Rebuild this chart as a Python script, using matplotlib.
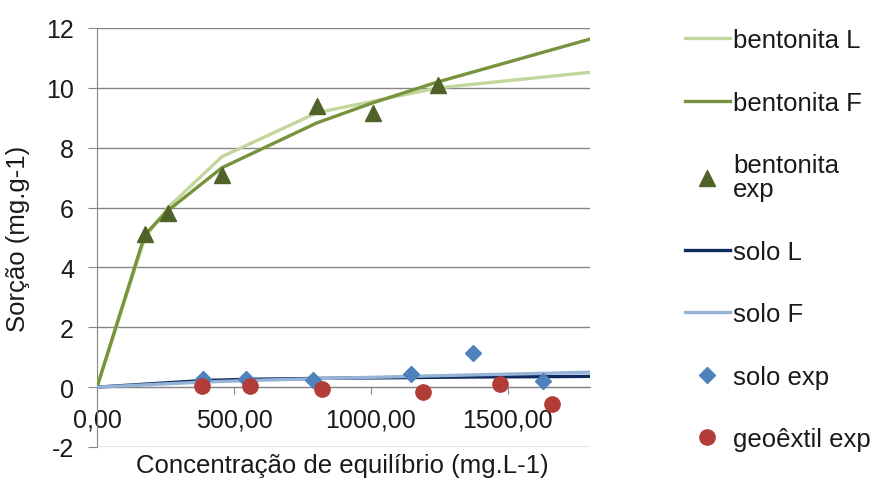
import matplotlib.pyplot as plt
from matplotlib.ticker import FuncFormatter, MultipleLocator

plt.rcParams['font.family'] = ['Liberation Sans', 'DejaVu Sans']
plt.rcParams['axes.unicode_minus'] = False

# Bentonite: experimental points and fitted isotherms
bent_x = [0, 175, 259, 456, 803, 1007, 1245, 1800]
bent_L = [0, 5.0, 6.0, 7.7, 9.17, 9.55, 10.0, 10.52]
bent_F = [0, 5.1, 5.9, 7.33, 8.83, 9.5, 10.2, 11.63]
bent_exp_x = [175, 259, 456, 803, 1007, 1245]
bent_exp_y = [5.13, 5.83, 7.1, 9.4, 9.17, 10.1]

# Soil: experimental points and fitted isotherms
solo_x = [0, 387, 544, 788, 1146, 1372, 1628, 1800]
solo_L = [0, 0.22, 0.26, 0.29, 0.32, 0.34, 0.35, 0.36]
solo_F = [0, 0.17, 0.22, 0.28, 0.36, 0.41, 0.46, 0.50]
solo_exp_x = [387, 544, 788, 1146, 1372, 1628]
solo_exp_y = [0.27, 0.27, 0.23, 0.43, 1.13, 0.2]

# Geotextile experimental points
geo_exp_x = [383, 558, 821, 1190, 1471, 1661]
geo_exp_y = [0.03, 0.03, -0.07, -0.17, 0.1, -0.57]

fig = plt.figure(figsize=(8.76, 4.81), dpi=100)
ax = fig.add_axes([97 / 876, 1 - 448 / 481, 493 / 876, 419 / 481])

grid_c = '#868686'
txt_c = '#1a1a1a'
ax.plot(bent_x, bent_L, color='#c3d69b', lw=2.4, label='bentonita L', zorder=3)
ax.plot(bent_x, bent_F, color='#77933c', lw=2.4, label='bentonita F', zorder=3)
ax.plot(bent_exp_x, bent_exp_y, ls='none', marker='^', ms=11, color='#4f6228',
        label='bentonita\nexp', zorder=5)
ax.plot(solo_x, solo_L, color='#0f2a5c', lw=2.4, label='solo L', zorder=3)
ax.plot(solo_x, solo_F, color='#95b3d7', lw=2.4, label='solo F', zorder=3)
ax.plot(solo_exp_x, solo_exp_y, ls='none', marker='D', ms=8, color='#4f81bd',
        label='solo exp', zorder=4)
ax.plot(geo_exp_x, geo_exp_y, ls='none', marker='o', ms=11, color='#b23c38',
        label='geoêxtil exp', zorder=5)

ax.set_xlim(0, 1800)
ax.set_ylim(-2, 12)
ax.yaxis.set_major_locator(MultipleLocator(2))
ax.xaxis.set_major_locator(MultipleLocator(500))
ax.xaxis.set_major_formatter(FuncFormatter(lambda v, p: f'{v:.2f}'.replace('.', ',')))
ax.grid(axis='y', color=grid_c, lw=1, zorder=0)

ax.spines['top'].set_visible(False)
ax.spines['right'].set_visible(False)
ax.spines['bottom'].set_position(('data', 0))
ax.spines['bottom'].set_color(grid_c)
ax.spines['left'].set_color(grid_c)
ax.tick_params(axis='both', colors=grid_c, labelcolor=txt_c, labelsize=18,
               direction='out')
ax.tick_params(axis='y', length=6.5, pad=10)
ax.tick_params(axis='x', length=5, pad=10)

ax.set_ylabel('Sorção (mg.g-1)', fontsize=18.5, color=txt_c, va='center')
ax.yaxis.set_label_coords(-0.16, 0.5)
ax.set_xlabel('Concentração de equilíbrio (mg.L-1)', fontsize=18.5, color=txt_c,
              va='center')
ax.xaxis.set_label_coords(0.497, -0.043)

leg = ax.legend(loc='upper left', bbox_to_anchor=(685 / 876, 1 - 29 / 481),
                bbox_transform=fig.transFigure, frameon=False, fontsize=18.5,
                labelspacing=1.5, handlelength=1.75, handletextpad=0.12,
                borderaxespad=0, borderpad=0)
for t in leg.get_texts():
    t.set_color(txt_c)
    t.set_linespacing(1.0)

fig.savefig('out.png', dpi=100)
